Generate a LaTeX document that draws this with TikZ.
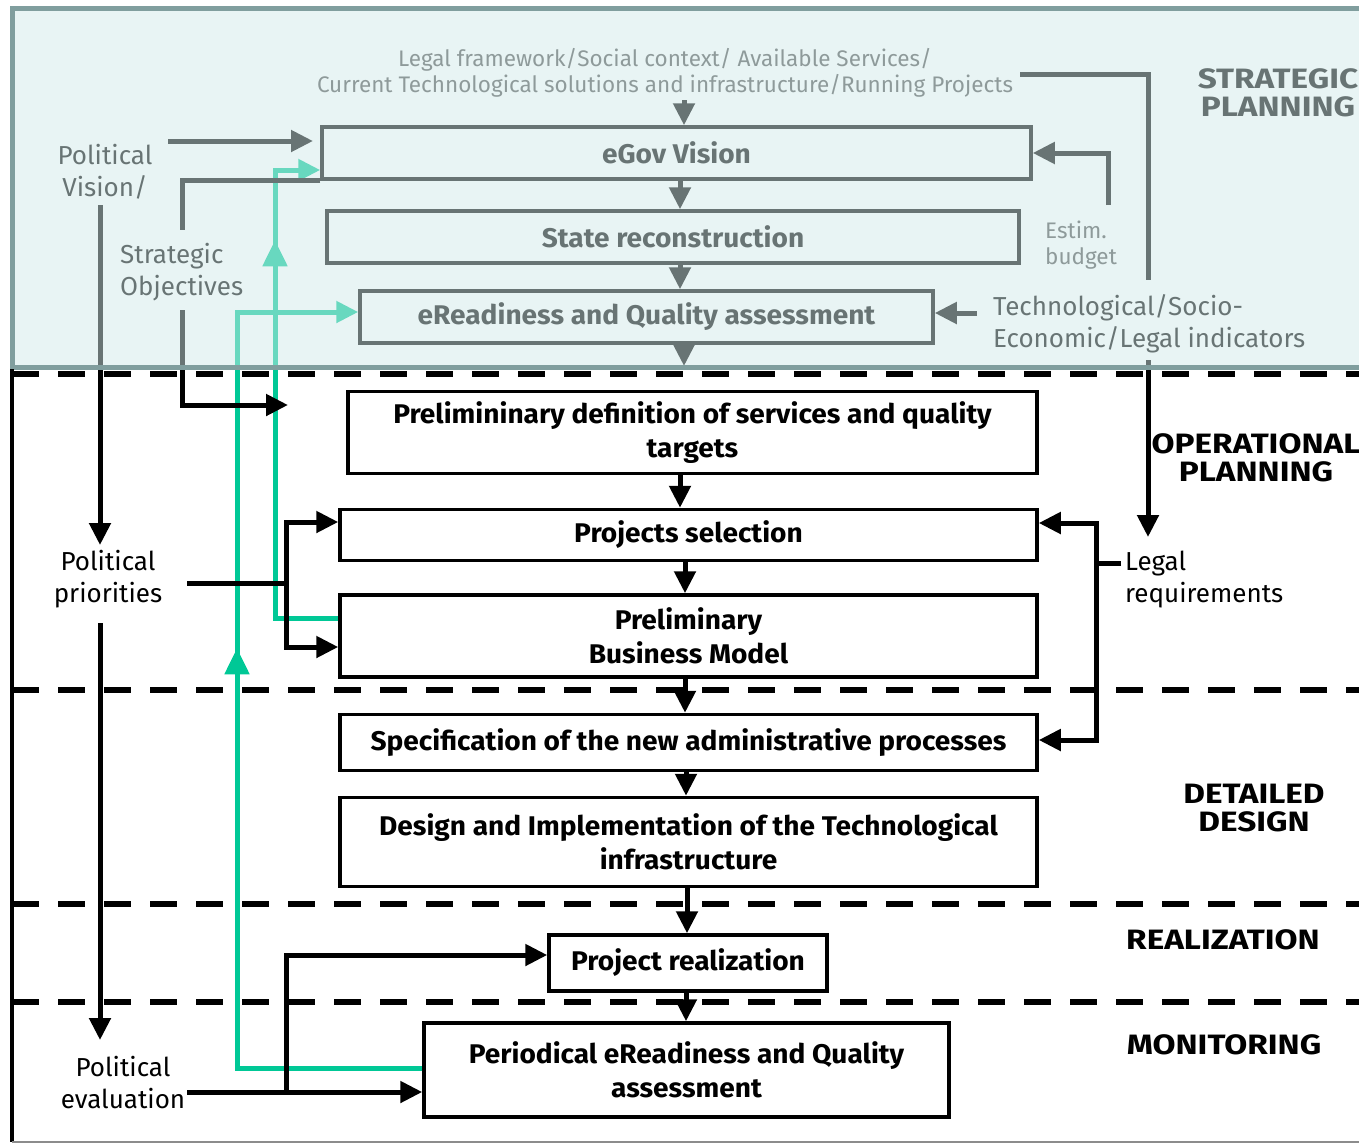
\documentclass[tikz,border=0pt]{standalone}
\usepackage{fontspec}
\setmainfont{Fira Sans}
\newfontfamily\boxfamily{Fira Sans}[FakeStretch=1.04]
\newfontfamily\lblfamily{Fira Sans}[FakeStretch=1.19]
\usetikzlibrary{arrows.meta,decorations.markings}
\definecolor{flow}{RGB}{0,200,150}
\definecolor{haze}{RGB}{209,233,233}
\definecolor{rim}{RGB}{128,158,158}

\tikzset{
  stage/.style={draw, line width=3.5pt, inner sep=0pt, align=center,
    font=\boxfamily\bfseries\fontsize{27}{34}\selectfont},
  wire/.style={line width=5pt},
  arr/.style={wire, -{Triangle[length=22pt,width=21pt]}},
  note/.style={font=\fontsize{26}{32}\selectfont, inner sep=0pt},
  lightnote/.style={font=\fontsize{22.5}{26}\selectfont, inner sep=0pt, text=black!70},
  phase/.style={font=\lblfamily\bfseries\fontsize{28}{28}\selectfont, align=center, inner sep=0pt},
  feedback/.style={flow, line width=5pt, -{Triangle[length=22pt,width=21pt]}},
  midtip/.style={postaction={decorate,decoration={markings,
      mark=at position #1 with {\arrow{Triangle[length=26pt,width=24pt]}}}}},
  divider/.style={line width=6pt, dash pattern=on 27pt off 19pt},
}

\begin{document}
\begin{tikzpicture}[x=1pt,y=-1pt]
\useasboundingbox (0,0) rectangle (1359,1144);

% ---------- strategic planning stages
\node[stage, minimum width=709pt, minimum height=52pt] (egov) at (676.5,153) {eGov Vision};
\node[stage, minimum width=692pt, minimum height=52pt] (state) at (673,237) {State reconstruction};
\node[stage, minimum width=573pt, minimum height=52pt] (eready) at (646.5,317) {eReadiness and Quality assessment};

% ---------- operational / design / realization / monitoring stages
\node[stage, minimum width=689pt, minimum height=82pt] (prelim) at (692.5,432.5)
  {Prelimininary definition of services and quality\\targets};
\node[stage, minimum width=697pt, minimum height=51pt] (projsel) at (688.5,535) {Projects selection};
\node[stage, minimum width=697pt, minimum height=82pt] (bizmod) at (688.5,636) {Preliminary\\Business Model};
\node[stage, minimum width=697pt, minimum height=56pt] (spec) at (688.5,742.5)
  {Specification of the new administrative processes};
\node[stage, minimum width=697pt, minimum height=89pt] (design) at (688.5,842)
  {Design and Implementation of the Technological\\infrastructure};
\node[stage, minimum width=278pt, minimum height=56pt] (realiz) at (688,963) {Project realization};
\node[stage, minimum width=525pt, minimum height=94pt] (period) at (686.5,1070)
  {Periodical eReadiness and Quality\\assessment};

% ---------- side texts
\node[lightnote, align=center] (lfw) at (665,73)
  {Legal framework/Social context/ Available Services/\\Current Technological solutions and infrastructure/Running Projects};
\node[lightnote, align=left, anchor=west] (estim) at (1045,245) {Estim.\\budget};
\node[note, align=left, anchor=west] (techind) at (993,324) {Technological/Socio-\\Economic/Legal indicators};
\node[note, align=center] (polvis) at (105,172) {Political\\Vision/};
\node[note, align=left, anchor=west] (strat) at (120,272) {Strategic\\Objectives};
\node[note, align=center] (polpri) at (108,579) {Political\\priorities};
\node[note, align=center] (poleval) at (123,1082) {Political\\evaluation};
\node[note, align=left, anchor=west] (legreq) at (1125,580) {Legal\\requirements};

\node[phase] (lstrat) at (1278,93) {STRATEGIC\\PLANNING};
\node[phase] (lop) at (1256,458) {OPERATIONAL\\PLANNING};
\node[phase] (ldd) at (1254,808) {DETAILED\\DESIGN};
\node[phase] (lreal) at (1223,940) {REALIZATION};
\node[phase] (lmon) at (1224,1045) {MONITORING};

% ---------- connector ends and bends
\coordinate (c680) at (680,0);
\coordinate (c685) at (685,0);
\coordinate (c686) at (686,0);
\coordinate (c687) at (687,0);
\coordinate (lfwdrop) at (684,100);
\coordinate (erdrop) at (684,366);
\coordinate (lfwtail) at (1020,74);
\coordinate (lfwbreak) at (1148,280);
\coordinate (lfwresume) at (1148,360);
\coordinate (legtip) at (1148,537);
\coordinate (budtail) at (1108,205);
\coordinate (indtail) at (977,313);
\coordinate (pvtail) at (168,141);
\coordinate (pvtip) at (313,141);
\coordinate (pvdown) at (100,205);
\coordinate (pptip) at (100,545);
\coordinate (sotop) at (182,230);
\coordinate (sobottom) at (182,310);
\coordinate (sotip) at (288,405);
\coordinate (pptail) at (187,583);
\coordinate (ppfork) at (286,583);
\coordinate (ppdown) at (100,623);
\coordinate (petip) at (100,1040);
\coordinate (petail) at (187,1092);
\coordinate (pefork) at (286,1092);
\coordinate (lrtail) at (1121,563);
\coordinate (lrfork) at (1096,563);
\coordinate (gAcol) at (275,170);
\coordinate (gBcol) at (237,312);

% ---------- feedback loops
\draw[feedback, midtip=441pt] (bizmod.west |- 0,618) -| (gAcol) -- (egov.west |- gAcol);
\draw[feedback, midtip=605pt] (period.west |- 0,1068) -| (gBcol) -- (eready.west |- gBcol);

% ---------- strategic flow
\draw[arr] (lfwdrop) -- (egov.north -| lfwdrop);
\draw[arr] (egov.south -| c680) -- (state.north -| c680);
\draw[arr] (state.south -| c680) -- (eready.north -| c680);
\draw[arr] (eready.south -| erdrop) -- (erdrop);
\draw[wire] (lfwtail) -| (lfwbreak);
\draw[arr] (lfwresume) -- (legtip);
\draw[arr] (budtail) |- (egov.east);
\draw[arr] (indtail) -- (indtail -| eready.east);
\draw[arr] (pvtail) -- (pvtip);
\draw[arr] (pvdown) -- (pptip);
\draw[wire] (egov.south west) -| (sotop);
\draw[arr] (sobottom) |- (sotip);

% ---------- main chain
\draw[arr] (prelim.south -| c680) -- (projsel.north -| c680);
\draw[arr] (projsel.south -| c685) -- (bizmod.north -| c685);
\draw[arr] (bizmod.south -| c685) -- (spec.north -| c685);
\draw[arr] (spec.south -| c686) -- (design.north -| c686);
\draw[arr] (design.south -| c687) -- (realiz.north -| c687);
\draw[arr] (realiz.south -| c686) -- (period.north -| c686);

% ---------- political inputs
\draw[wire] (pptail) -- (ppfork);
\draw[arr] (ppfork) |- (projsel.west |- 0,522);
\draw[arr] (ppfork) |- (bizmod.west |- 0,647);
\draw[arr] (ppdown) -- (petip);
\draw[wire] (petail) -- (pefork);
\draw[arr] (pefork) |- (realiz.west |- 0,955);
\draw[arr] (pefork) -- (period.west |- pefork);

% ---------- legal requirements
\draw[wire] (lrtail) -- (lrfork);
\draw[arr] (lrfork) |- (projsel.east |- 0,523);
\draw[arr] (lrfork) |- (spec.east |- 0,740);

% ---------- strategic planning band (translucent)
\fill[haze, opacity=0.5] (12,8) rectangle (1368,367);
\draw[rim, line width=5pt] (1368,8) -- (12,8) -- (12,367) -- (1368,367);

% ---------- phase separators and frame
\draw[divider] (12,374) -- (1359,374);
\draw[divider] (12,690) -- (1359,690);
\draw[divider] (12,904) -- (1359,904);
\draw[divider] (12,1002) -- (1359,1002);
\draw[line width=4pt] (12,369) -- (12,1142);
\draw[black!45, line width=2pt] (12,1142) -- (1359,1142);
\end{tikzpicture}
\end{document}
